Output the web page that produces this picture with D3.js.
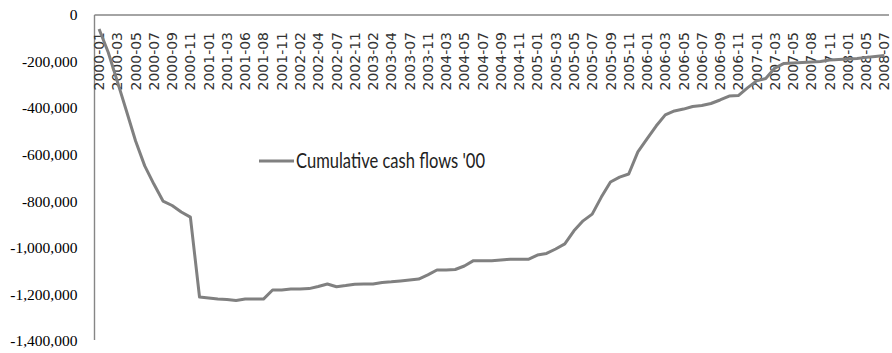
<!DOCTYPE html>
<html>
<head>
<meta charset="utf-8">
<script src="https://cdn.jsdelivr.net/npm/d3@7"></script>
<style>
  html, body { margin: 0; padding: 0; background: #fff; }
  svg { display: block; }
</style>
</head>
<body>
<svg id="chart" width="892" height="353"></svg>
<script>
// Month of each observation (every second one is shown on the axis)
const categories = [
  "2000-01","2000-02","2000-03","2000-04","2000-05","2000-06","2000-07","2000-08",
  "2000-09","2000-10","2000-11","2000-12","2001-01","2001-02","2001-03","2001-05",
  "2001-06","2001-07","2001-08","2001-10","2001-11","2002-01","2002-02","2002-03",
  "2002-04","2002-06","2002-07","2002-09","2002-11","2003-01","2003-02","2003-03",
  "2003-04","2003-06","2003-07","2003-09","2003-11","2004-01","2004-03","2004-04",
  "2004-05","2004-06","2004-07","2004-08","2004-09","2004-10","2004-11","2004-12",
  "2005-01","2005-02","2005-03","2005-04","2005-05","2005-06","2005-07","2005-08",
  "2005-09","2005-10","2005-11","2005-12","2006-01","2006-02","2006-03","2006-04",
  "2006-05","2006-06","2006-07","2006-08","2006-09","2006-10","2006-11","2006-12",
  "2007-01","2007-02","2007-03","2007-04","2007-05","2007-07","2007-08","2007-10",
  "2007-11","2007-12","2008-01","2008-03","2008-05","2008-06","2008-07"
];

// Cumulative cash flows, '00
const cumulativeCashFlows = [
  -60000, -160000, -285000, -412000, -541000, -648000, -726000, -799000,
  -818000, -846000, -868000, -1211000, -1215000, -1220000, -1222000, -1226000,
  -1220000, -1220000, -1220000, -1181000, -1181000, -1177000, -1177000, -1175000,
  -1166000, -1155000, -1167000, -1162000, -1156000, -1155000, -1155000, -1149000,
  -1146000, -1142000, -1138000, -1134000, -1116000, -1095000, -1095000, -1093000,
  -1078000, -1055000, -1055000, -1055000, -1052000, -1049000, -1049000, -1049000,
  -1031000, -1024000, -1005000, -983000, -927000, -884000, -855000, -782000,
  -717000, -696000, -683000, -588000, -532000, -477000, -429000, -412000,
  -404000, -393000, -389000, -380000, -365000, -348000, -346000, -313000,
  -283000, -273000, -228000, -208000, -206000, -204000, -202000, -200000,
  -193000, -191000, -189000, -187000, -182000, -178000, -174000
];

const yTicks = [0, -200000, -400000, -600000, -800000, -1000000, -1200000, -1400000];
const seriesName = "Cumulative cash flows '00";

const svg = d3.select("#chart");
const plot = { left: 94.5, right: 889, top: 15, bottom: 341 };

const x = d3.scaleBand()
  .domain(categories)
  .range([plot.left, plot.right])
  .paddingInner(0).paddingOuter(0);

const y = d3.scaleLinear()
  .domain([-1400000, 0])
  .range([plot.bottom, plot.top]);

const axisColor = "#868686";
const thousands = d3.format(",.0f");

// Value axis labels, right-aligned left of the axis line
svg.append("g")
  .selectAll("text")
  .data(yTicks)
  .join("text")
  .attr("x", plot.left - 17)
  .attr("y", d => y(d))
  .attr("dy", "0.34em")
  .attr("text-anchor", "end")
  .attr("font-family", "Liberation Serif")
  .attr("font-size", 15.5)
  .style("font-family", "'Liberation Serif'")
  .style("font-size", "15.5px")
  .attr("fill", "#000")
  .text(d => thousands(d).replace("\u2212", "-"));

svg.append("line")
  .attr("x1", plot.left).attr("x2", plot.left)
  .attr("y1", y(0)).attr("y2", plot.bottom - 1)
  .attr("stroke", axisColor).attr("stroke-width", 1.4);

// Category axis sits on the zero line at the top
const xAxis = d3.axisTop(x)
  .tickValues(categories.filter((d, i) => i % 2 === 0))
  .tickSize(0)
  .tickPadding(0);

const xg = svg.append("g")
  .attr("transform", `translate(0,${y(0)})`)
  .call(xAxis)
  .attr("font-family", null)
  .attr("font-size", null);
xg.select(".domain")
  .attr("stroke", axisColor)
  .attr("stroke-width", 1.4)
  .attr("d", `M${plot.left},0H${plot.right}`);
xg.selectAll("text")
  .style("font-family", "'DejaVu Sans'")
  .style("font-size", "14px")
  .attr("fill", "#333")
  .attr("text-anchor", "end")
  .attr("transform", "rotate(-90)")
  .attr("x", -17)
  .attr("y", 0)
  .attr("dy", "0.36em");

// Series line
const line = d3.line()
  .x((d, i) => x(categories[i]) + x.bandwidth() / 2)
  .y(d => y(d));

svg.append("path")
  .datum(cumulativeCashFlows)
  .attr("fill", "none")
  .attr("stroke", "#808080")
  .attr("stroke-width", 3)
  .attr("stroke-linejoin", "round")
  .attr("d", line);

// Legend
const legend = svg.append("g").attr("transform", "translate(259,161)");
legend.append("line")
  .attr("x1", 0).attr("x2", 35)
  .attr("stroke", "#808080").attr("stroke-width", 3);
legend.append("text")
  .attr("x", 37)
  .attr("dy", "0.35em")
  .style("font-family", "'Lato'")
  .style("font-size", "21px")
  .attr("fill", "#222")
  .attr("textLength", 189)
  .attr("lengthAdjust", "spacingAndGlyphs")
  .text(seriesName);
</script>
</body>
</html>
